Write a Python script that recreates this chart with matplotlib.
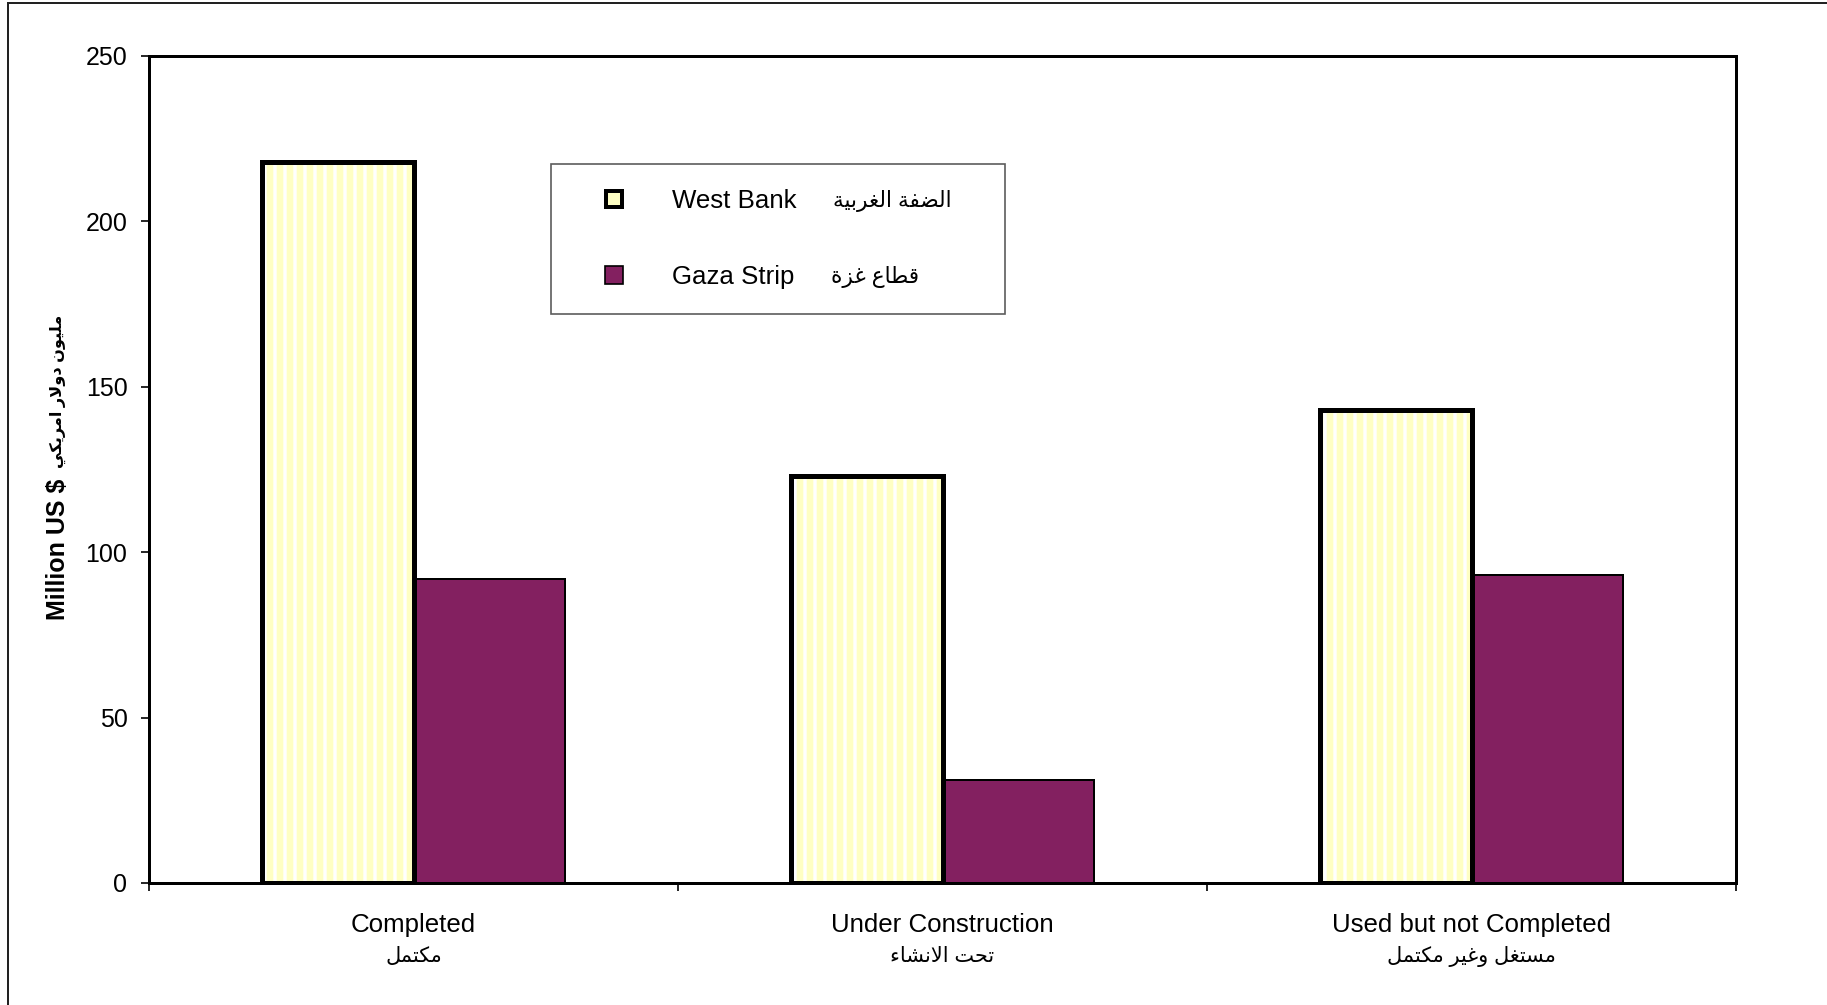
import matplotlib
matplotlib.use("Agg")
import matplotlib.pyplot as plt
from matplotlib.lines import Line2D
import numpy as np

plt.rcParams['font.family'] = ['Liberation Sans', 'DejaVu Sans']
plt.rcParams['hatch.linewidth'] = 2.0

# Arabic strings are written in presentation forms, visual (left-to-right) order
AR_COMPLETED = "\ufede\ufee4\ufe98\ufedc\ufee3"
AR_UNDER = "\ufe80\ufe8e\ufeb8\ufee7\ufefb\ufe8d \ufe96\ufea4\ufe97"
AR_USED = ("\ufede\ufee4\ufe98\ufedc\ufee3 \ufeae\ufef4\ufecf\ufeed "
           "\ufede\ufed0\ufe98\ufeb4\ufee3")
AR_WEST_BANK = "\ufe94\ufef4\ufe91\ufeae\ufed0\ufedf\ufe8d \ufe94\ufed4\ufec0\ufedf\ufe8d"
AR_GAZA = "\ufe93\ufeb0\ufecf \ufec9\ufe8e\ufec4\ufed7"
AR_MILLION_USD = ("\ufef2\ufedc\ufef3\ufeae\ufee3\ufe8d \ufead\ufefb\ufeed\ufea9 "
                  "\ufee5\ufeee\ufef4\ufee0\ufee3")

categories = ["Completed", "Under Construction", "Used but not Completed"]
categories_ar = [AR_COMPLETED, AR_UNDER, AR_USED]
series = ["West Bank", "Gaza Strip"]
series_ar = [AR_WEST_BANK, AR_GAZA]
west_bank = [218, 123, 143]
gaza_strip = [92, 31, 93]
y_ticks = [0, 50, 100, 150, 200, 250]

YELLOW = '#FFFFC4'
PURPLE = '#832060'

fig = plt.figure(figsize=(15.225, 8.375), dpi=120)
ax = fig.add_axes([0.0816, 0.1214, 0.8686, 0.8229])

x = np.arange(len(categories)) + 0.5
w = 1 / 3.5

ax.bar(x + w / 2, gaza_strip, w, color=PURPLE, edgecolor='black', linewidth=1.2)
ax.bar(x - w / 2, west_bank, w, color=YELLOW, hatch='||', edgecolor='white', linewidth=0)
ax.bar(x - w / 2, west_bank, w, fill=False, edgecolor='black', linewidth=3)

ax.set_xlim(0, 3)
ax.set_ylim(0, 250)
ax.set_yticks(y_ticks)
ax.tick_params(axis='y', labelsize=15, length=5, width=1, pad=8)

# boundaries get tick marks, labels sit at the group centres
ax.set_xticks([0, 1, 2, 3])
ax.set_xticklabels([])
ax.tick_params(axis='x', which='major', length=5, width=1)
ax.set_xticks(x, minor=True)
ax.set_xticklabels(categories, minor=True, fontsize=15.5)
ax.tick_params(axis='x', which='minor', length=0, pad=18)
for xi, lab in zip(x, categories_ar):
    ax.text(xi, -0.089, lab, transform=ax.get_xaxis_transform(),
            ha='center', va='center', fontsize=12.5)

for s in ax.spines.values():
    s.set_linewidth(1.8)

# y label: English part and Arabic part stacked along the left side
fig.text(58 / 1827, 1 - 620 / 1005, "Million US $", rotation=90,
         ha='center', va='bottom', fontsize=15, fontweight='bold')
fig.text(58 / 1827, 1 - 468 / 1005, AR_MILLION_USD, rotation=90,
         ha='center', va='bottom', fontsize=9.7, fontweight='bold')

handles = [
    Line2D([], [], linestyle='none', marker='s', markersize=10,
           markerfacecolor=YELLOW, markeredgecolor='black', markeredgewidth=2.4),
    Line2D([], [], linestyle='none', marker='s', markersize=11,
           markerfacecolor=PURPLE, markeredgecolor='black', markeredgewidth=1),
]
leg = ax.legend(handles, series, loc='upper left', mode='expand',
                bbox_to_anchor=(0.2533, 0.6904, 0.2861, 0.179),
                fontsize=15.5, frameon=True, fancybox=False, edgecolor='#333333',
                borderpad=0.98, labelspacing=2.0, handlelength=2.94,
                handletextpad=0.78, borderaxespad=0)
leg.get_frame().set_linewidth(1.0)

# Arabic series names follow the English ones inside the legend box
fig.canvas.draw()
inv = fig.transFigure.inverted()
for t, lab in zip(leg.get_texts(), series_ar):
    bb = t.get_window_extent()
    fx, fy = inv.transform((bb.x1 + 36, (bb.y0 + bb.y1) / 2))
    fig.text(fx, fy, lab, ha='left', va='center', fontsize=13)

# page border along the top and left edges
fig.add_artist(Line2D([8 / 1827, 1], [1 - 3 / 1005, 1 - 3 / 1005],
                      color='#222222', linewidth=1.2))
fig.add_artist(Line2D([8 / 1827, 8 / 1827], [0, 1 - 3 / 1005],
                      color='#222222', linewidth=1.2))

fig.savefig('out.png', dpi=120)
